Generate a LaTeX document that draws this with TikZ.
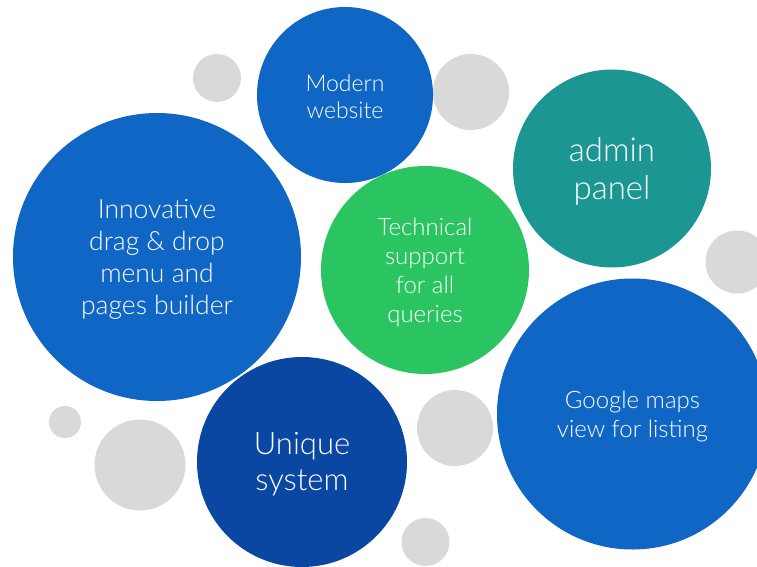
\documentclass[tikz,border=0pt]{standalone}
\usepackage{fontspec}
\setmainfont{Lato}[UprightFont=* Light]
\usepackage{tikz}
\definecolor{bubbleblue}{RGB}{16,102,196}
\definecolor{bubbledark}{RGB}{10,71,162}
\definecolor{bubblegreen}{RGB}{42,197,97}
\definecolor{bubbleteal}{RGB}{27,150,147}
\definecolor{blobgrey}{RGB}{217,217,217}
\tikzset{
	caption/.style={text=white, align=center, inner sep=0pt},
	blob/.style={fill=blobgrey, draw=none},
}
\newcommand{\fsz}[2]{\fontsize{#1}{#2}\selectfont}

\begin{document}
\begin{tikzpicture}[x=1pt, y=-1pt]
		%%%%% START %%%%%
		\useasboundingbox (0, 0) rectangle (757, 567);
		\clip (0, 0) rectangle (757, 567);
		
		% grey blobs
		\fill[blob] (217, 78) circle (24);
		\fill[blob] (471, 92) circle (38);
		\fill[blob] (737, 262) circle (31.5);
		\fill[blob] (65, 422) circle (16);
		\fill[blob] (140, 465) circle (45.5);
		\fill[blob] (455, 428) circle (38);
		\fill[blob] (425.5, 542) circle (24);
		
		% bubbles
		\fill[bubbleblue] (345, 95) circle (88);
		\fill[bubbleblue] (157, 257) circle (144);
		\fill[bubbleteal] (612, 168.5) circle (99);
		\fill[bubblegreen] (425, 270) circle (104);
		\fill[bubbleblue] (632.5, 414) circle (135.5);
		\fill[bubbledark] (302, 462) circle (105);
		
		% captions
		\node[caption, font=\fsz{23}{27}] (website) at (345, 97) {Modern\\website};
		\node[caption, font=\fsz{26.5}{32}] (builder) at (157, 259) {Innovative\\drag \& drop\\menu and\\pages builder};
		\node[caption, font=\fsz{33}{38}] (admin) at (612, 171) {admin\\panel};
		\node[caption, font=\fsz{24}{29}] (support) at (425, 272) {Technical\\support\\for all\\queries};
		\node[caption, font=\fsz{24}{29}] (maps) at (632.5, 416) {Google maps\\view for listing};
		\node[caption, font=\fsz{31}{36}] (unique) at (302, 464) {Unique\\system};
		
		%%%%% END %%%%%
	\end{tikzpicture}
\end{document}
